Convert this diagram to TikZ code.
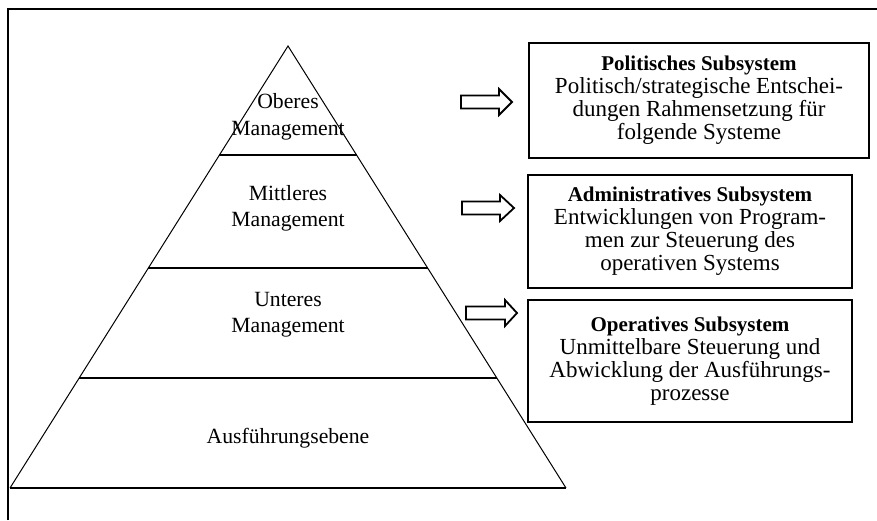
\documentclass[tikz,border=0pt]{standalone}
\usepackage{fontspec}
\setmainfont{Liberation Serif}
\newcommand\myblockarrow[5]{% name, x0, xh, tip, cy
  \draw[arrowline] (#2,#5-6.5) -- (#3,#5-6.5) -- (#3,#5-13) -- (#4,#5) coordinate (#1)
    -- (#3,#5+13) -- (#3,#5+6.5) -- (#2,#5+6.5) -- cycle;}
\begin{document}
\begin{tikzpicture}[x=1pt,y=-1pt,
  lvl/.style={align=center,inner sep=0pt,font=\fontsize{21.7}{26.5}\selectfont},
  sysbox/.style={draw,line width=1.8pt,align=center,inner sep=0pt,
    font=\fontsize{23}{23}\selectfont},
  arrowline/.style={line width=1.8pt,line join=miter},
  divider/.style={line width=1.6pt}]
\useasboundingbox (0,0) rectangle (877,520);
% frame
\draw[line width=2.2pt] (8,520) -- (8,9) -- (877,9);
% pyramid
\coordinate (apex) at (288,46);
\coordinate (bl) at (10,488);
\coordinate (br) at (566,488);
\draw[line width=1pt] (bl) -- (apex) -- (br);
\draw[divider] (bl) -- (br);
\draw[divider] (219.4,155) -- (356.6,155);
\draw[divider] (148.4,268) -- (427.6,268);
\draw[divider] (79.2,378) -- (496.8,378);
% level texts
\node[lvl] (ober) at (288,117) {Oberes\\Management};
\node[lvl] (mittel) at (288,208.5) {Mittleres\\Management};
\node[lvl] (unter) at (288,314.5) {Unteres\\Management};
\node[lvl] (ausf) at (288,438) {Ausführungsebene};
% arrows
\myblockarrow{a1}{461}{499}{512}{102}
\myblockarrow{a2}{462}{500}{514}{208}
\myblockarrow{a3}{466}{505}{517}{313}
% boxes
\node[sysbox,minimum width=340pt,minimum height=115pt] (pol) at (699,100.5)
  {{\bfseries\fontsize{21}{23}\selectfont Politisches Subsystem}\\
   Politisch/strategische Entschei-\\dungen Rahmensetzung für\\folgende Systeme};
\node[sysbox,minimum width=324pt,minimum height=113pt] (adm) at (690,231.5)
  {{\bfseries\fontsize{21}{23}\selectfont Administratives Subsystem}\\
   Entwicklungen von Program-\\men zur Steuerung des\\operativen Systems};
\node[sysbox,minimum width=324pt,minimum height=122pt] (ops) at (690,361)
  {{\bfseries\fontsize{21}{23}\selectfont Operatives Subsystem}\\
   Unmittelbare Steuerung und\\Abwicklung der Ausführungs-\\prozesse};
\end{tikzpicture}
\end{document}
